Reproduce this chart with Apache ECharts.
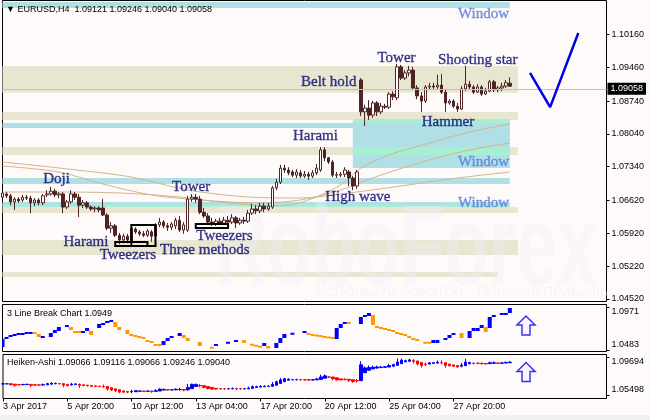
<!DOCTYPE html>
<html><head><meta charset="utf-8">
<script src="https://cdn.jsdelivr.net/npm/echarts@6/dist/echarts.min.js"></script>
<style>html,body{margin:0;padding:0;background:#fffafa;}#c{width:650px;height:420px;}</style>
</head><body><div id="c"></div>
<script>
const symbolName = 'EURUSD,H4';
const lastBar = [1.09121, 1.09246, 1.09040, 1.09058]; // O H L C
const tickLabels = ['3 Apr 2017','5 Apr 20:00','10 Apr 12:00','13 Apr 04:00','17 Apr 20:00','20 Apr 12:00','25 Apr 04:00','27 Apr 20:00'];
const priceTicks = [1.0452,1.0522,1.0592,1.0662,1.0734,1.0804,1.0874,1.0946,1.1016];
const lbTicks = [1.0483, 1.0971];
const haTicks = [1.05498, 1.09694];
const lbLast = 1.0949;
const haHeader = [1.09066, 1.09116, 1.09066, 1.09246, 1.09040];

// candles: [open, close, low, high]
const candles = [
[1.0669,1.0678,1.0665,1.0682],[1.0676,1.0672,1.0667,1.0680],[1.0672,1.0659,1.0652,1.0676],[1.0659,1.0665,1.0642,1.0669],
[1.0665,1.0661,1.0657,1.0669],[1.0663,1.0669,1.0659,1.0674],[1.0669,1.0667,1.0663,1.0674],[1.0667,1.0657,1.0635,1.0672],
[1.0657,1.0663,1.0650,1.0667],[1.0663,1.0657,1.0652,1.0667],[1.0657,1.0672,1.0652,1.0676],[1.0674,1.0676,1.0669,1.0684],
[1.0676,1.0682,1.0672,1.0691],[1.0682,1.0674,1.0669,1.0687],[1.0674,1.0676,1.0667,1.0680],[1.0676,1.0648,1.0635,1.0680],
[1.0648,1.0659,1.0644,1.0663],[1.0659,1.0676,1.0655,1.0684],[1.0676,1.0669,1.0663,1.0680],[1.0669,1.0652,1.0627,1.0676],
[1.0652,1.0657,1.0646,1.0663],[1.0657,1.0648,1.0644,1.0661],[1.0648,1.0644,1.0640,1.0652],[1.0644,1.0646,1.0637,1.0650],
[1.0646,1.0642,1.0637,1.0650],[1.0646,1.0631,1.0629,1.0665],[1.0631,1.0603,1.0599,1.0635],[1.0603,1.0608,1.0593,1.0616],
[1.0608,1.0588,1.0584,1.0612],[1.0588,1.0578,1.0569,1.0593],[1.0578,1.0586,1.0571,1.0591],[1.0586,1.0578,1.0571,1.0591],
[1.0574,1.0603,1.0569,1.0608],[1.0601,1.0595,1.0591,1.0605],[1.0595,1.0591,1.0586,1.0599],[1.0591,1.0588,1.0584,1.0597],
[1.0588,1.0597,1.0584,1.0601],[1.0595,1.0586,1.0574,1.0599],[1.0586,1.0610,1.0582,1.0614],[1.0610,1.0616,1.0605,1.0625],
[1.0616,1.0608,1.0603,1.0620],[1.0608,1.0605,1.0597,1.0614],[1.0605,1.0612,1.0599,1.0616],[1.0608,1.0620,1.0601,1.0625],
[1.0620,1.0599,1.0595,1.0629],[1.0599,1.0610,1.0591,1.0616],[1.0599,1.0665,1.0595,1.0672],[1.0665,1.0669,1.0659,1.0676],
[1.0669,1.0665,1.0657,1.0676],[1.0665,1.0637,1.0633,1.0672],[1.0637,1.0629,1.0625,1.0646],[1.0629,1.0616,1.0610,1.0635],
[1.0616,1.0612,1.0608,1.0625],[1.0612,1.0618,1.0608,1.0623],[1.0618,1.0614,1.0610,1.0625],[1.0614,1.0620,1.0610,1.0627],
[1.0620,1.0616,1.0612,1.0629],[1.0616,1.0625,1.0612,1.0633],[1.0625,1.0614,1.0603,1.0629],[1.0614,1.0620,1.0610,1.0625],
[1.0620,1.0618,1.0612,1.0627],[1.0618,1.0635,1.0614,1.0642],[1.0635,1.0644,1.0631,1.0655],[1.0644,1.0640,1.0633,1.0652],
[1.0640,1.0650,1.0635,1.0657],[1.0650,1.0644,1.0637,1.0657],[1.0644,1.0650,1.0640,1.0657],[1.0648,1.0689,1.0644,1.0693],
[1.0689,1.0701,1.0684,1.0708],[1.0701,1.0731,1.0697,1.0738],[1.0731,1.0727,1.0721,1.0738],[1.0727,1.0721,1.0716,1.0733],
[1.0723,1.0716,1.0712,1.0727],[1.0716,1.0723,1.0710,1.0729],[1.0721,1.0714,1.0710,1.0727],[1.0714,1.0718,1.0710,1.0725],
[1.0718,1.0714,1.0706,1.0723],[1.0714,1.0721,1.0710,1.0727],[1.0721,1.0731,1.0716,1.0740],[1.0727,1.0770,1.0723,1.0776],
[1.0770,1.0753,1.0746,1.0776],[1.0753,1.0744,1.0740,1.0755],[1.0744,1.0716,1.0712,1.0748],[1.0716,1.0717,1.0710,1.0723],
[1.0716,1.0718,1.0712,1.0723],[1.0718,1.0727,1.0712,1.0733],[1.0723,1.0710,1.0693,1.0727],[1.0710,1.0693,1.0684,1.0714],
[1.0693,1.0723,1.0687,1.0727],
[1.0919,1.0851,1.0842,1.0923],[1.0851,1.0859,1.0821,1.0866],[1.0859,1.0844,1.0834,1.0876],[1.0844,1.0870,1.0838,1.0874],
[1.0870,1.0851,1.0842,1.0874],[1.0851,1.0863,1.0846,1.0870],[1.0863,1.0861,1.0857,1.0868],[1.0861,1.0889,1.0857,1.0893],
[1.0889,1.0883,1.0876,1.0895],[1.0881,1.0947,1.0876,1.0953],[1.0947,1.0923,1.0919,1.0951],[1.0923,1.0934,1.0919,1.0940],
[1.0934,1.0940,1.0927,1.0949],[1.0940,1.0902,1.0898,1.0947],[1.0902,1.0885,1.0878,1.0908],[1.0885,1.0874,1.0851,1.0893],
[1.0874,1.0904,1.0870,1.0908],[1.0904,1.0906,1.0898,1.0913],[1.0906,1.0904,1.0900,1.0913],[1.0904,1.0908,1.0900,1.0930],
[1.0908,1.0893,1.0889,1.0932],[1.0893,1.0870,1.0851,1.0898],[1.0870,1.0874,1.0866,1.0878],[1.0874,1.0863,1.0859,1.0878],
[1.0863,1.0857,1.0851,1.0870],[1.0857,1.0900,1.0855,1.0906],[1.0900,1.0910,1.0895,1.0949],[1.0910,1.0904,1.0900,1.0917],
[1.0904,1.0893,1.0889,1.0908],[1.0893,1.0904,1.0891,1.0910],[1.0904,1.0889,1.0885,1.0908],[1.0889,1.0895,1.0887,1.0902],
[1.0895,1.0915,1.0893,1.0919],[1.0915,1.0898,1.0893,1.0919],[1.0898,1.0902,1.0893,1.0906],[1.0902,1.0906,1.0895,1.0913],
[1.0906,1.0913,1.0902,1.0919],
[lastBar[0], lastBar[3], lastBar[2], lastBar[1]]
];

// moving averages read at sample bars: [barIndex, value]
const maSlow = [[0,1.07441],[14,1.07313],[32,1.07121],[46,1.06844],[61,1.06695],[74,1.06673],[86,1.06780],[99,1.06929],[111,1.07078],[126,1.07228]];
const maMid  = [[0,1.07356],[14,1.07228],[24,1.06993],[37,1.06737],[49,1.06631],[64,1.06567],[74,1.06631],[84,1.06844],[94,1.07164],[106,1.07484],[116,1.07697],[126,1.07846]];
const maFast = [[0,1.06801],[14,1.06801],[29,1.06780],[44,1.06695],[56,1.06567],[69,1.06503],[76,1.06631],[84,1.06951],[89,1.07313],[96,1.07590],[106,1.07846],[116,1.08080],[126,1.08251]];

// forecast check mark
const checkMark = [[131,1.0934],[136,1.0861],[143,1.1019]];

// zones: [fromBar|null, toBar, top, bottom, kind]
const zones = [
 [null,126,1.10852,1.10724,'blue'],
 [null,128,1.09488,1.08919,'beige'],
 [null,128,1.08507,1.08337,'beige'],
 [87,126,1.08358,1.08273,'mint'],
 [null,126,1.08273,1.08166,'blue'],
 [null,128,1.07761,1.07591,'beige'],
 [87,126,1.08166,1.07313,'blue'],
 [87,126,1.07761,1.07591,'mint'],
 [null,126,1.07100,1.06972,'blue'],
 [null,126,1.06588,1.06503,'blue'],
 [null,126,1.06524,1.06482,'mint'],
 [null,128,1.06482,1.06354,'beige'],
 [null,128,1.05778,1.05458,'beige'],
 [null,123,1.05096,1.04989,'beige']
];
const zoneColors = {blue:'#b0e0e6', beige:'#e8e6d0', mint:'#a6efd2'};

// pattern boxes: [fromBar, toBar, top, bottom]
const patternBoxes = [[28,36,1.05735,1.05650],[32,38,1.06097,1.05650],[48,56,1.06119,1.06034]];

// pattern labels: [text, bar, price, style]
const patternLabels = [
 ['Window',113,1.10597,'w'],['Tower',93,1.09658],['Shooting star',108,1.09616],['Belt hold',74,1.09147],
 ['Hammer',104,1.08294],['Harami',72,1.07995],['Window',113,1.07441,'w'],['Doji',10,1.07078],
 ['Tower',42,1.06908],['High wave',80,1.06695],['Window',113,1.06567,'w'],['Tweezers',48,1.05863],
 ['Harami',15,1.05735],['Three methods',39,1.05565],['Tweezers',24,1.05458]
];

// 3 Line Break bricks: [bar, low, high, dir]
const lbBricks = [
[0,1.0518,1.0609,1],[1,1.0609,1.0632,1],[2,1.0632,1.0655,1],[3,1.0644,1.0667,1],[4,1.0655,1.0678,1],[5,1.0655,1.0678,1],
[6,1.0667,1.0690,1],[7,1.0667,1.0690,1],[8,1.0667,1.0690,-1],[9,1.0632,1.0667,-1],[10,1.0621,1.0644,1],[12,1.0632,1.0678,1],
[13,1.0678,1.0713,1],[14,1.0701,1.0747,1],[16,1.0747,1.0770,1],[17,1.0713,1.0747,-1],[18,1.0678,1.0701,-1],[19,1.0678,1.0701,-1],
[20,1.0678,1.0701,1],[21,1.0701,1.0736,1],[22,1.0655,1.0701,-1],[24,1.0736,1.0782,1],[25,1.0770,1.0793,1],[26,1.0793,1.0816,1],
[27,1.0805,1.0827,1],[28,1.0747,1.0805,-1],[29,1.0713,1.0747,-1],[31,1.0667,1.0713,-1],[32,1.0644,1.0667,-1],[33,1.0632,1.0655,-1],
[34,1.0621,1.0644,-1],[35,1.0609,1.0632,-1],[36,1.0575,1.0598,-1],[37,1.0563,1.0586,-1],[38,1.0529,1.0552,-1],[39,1.0529,1.0552,-1],
[40,1.0540,1.0586,1],[41,1.0586,1.0621,1],[42,1.0621,1.0644,1],[44,1.0644,1.0678,1],[45,1.0621,1.0655,-1],[46,1.0586,1.0621,-1],
[49,1.0529,1.0575,-1],[52,1.0500,1.0518,-1],[53,1.0529,1.0552,1],[56,1.0558,1.0575,1],[58,1.0575,1.0598,1],[60,1.0563,1.0598,-1],
[62,1.0535,1.0552,-1],[63,1.0523,1.0540,-1],[64,1.0512,1.0529,-1],[65,1.0529,1.0563,1],[66,1.0500,1.0529,-1],[68,1.0506,1.0563,1],
[69,1.0563,1.0621,1],[70,1.0621,1.0667,1],[72,1.0661,1.0678,1],[75,1.0678,1.0701,1],[76,1.0655,1.0678,-1],[77,1.0644,1.0667,-1],
[78,1.0638,1.0661,-1],[79,1.0632,1.0655,-1],[80,1.0621,1.0644,-1],[81,1.0615,1.0638,-1],[82,1.0609,1.0632,-1],[83,1.0609,1.0736,1],
[84,1.0736,1.0782,1],[85,1.0782,1.0805,1],[86,1.0782,1.0805,-1],[89,1.0782,1.0862,1],[90,1.0862,1.0885,1],[91,1.0873,1.0908,1],
[92,1.0770,1.0885,-1],[93,1.0736,1.0759,-1],[94,1.0724,1.0747,-1],[95,1.0713,1.0736,-1],[96,1.0701,1.0724,-1],[97,1.0690,1.0713,-1],
[98,1.0667,1.0690,-1],[99,1.0655,1.0678,-1],[100,1.0644,1.0667,-1],[101,1.0621,1.0644,-1],[102,1.0598,1.0621,-1],[103,1.0586,1.0609,-1],
[105,1.0558,1.0575,-1],[106,1.0558,1.0575,-1],[107,1.0563,1.0598,1],[108,1.0563,1.0598,1],[110,1.0598,1.0621,1],[111,1.0621,1.0655,1],
[112,1.0655,1.0678,1],[114,1.0621,1.0678,-1],[116,1.0621,1.0701,1],[117,1.0701,1.0736,1],[118,1.0701,1.0736,1],[119,1.0736,1.0770,1],
[120,1.0690,1.0747,-1],[121,1.0736,1.0862,1],[122,1.0862,1.0885,1],[124,1.0885,1.0908,1],[125,1.0885,1.0908,1],[126,1.0908,1.0965,1]
];
const lbArrow = [[130, 1.07644]];
const haArrow = [[130, 1.08038]];

// bar time categories (H4, weekdays), including empty right margin
const months = ['Jan','Feb','Mar','Apr','May','Jun','Jul','Aug','Sep','Oct','Nov','Dec'];
const barTimes = [];
(function(){ let t = Date.UTC(2017,3,3,4); while (barTimes.length < 151) { const d = new Date(t); const wd = d.getUTCDay();
  if (wd !== 0 && wd !== 6) barTimes.push(d.getUTCDate()+' '+months[d.getUTCMonth()]+' '+String(d.getUTCHours()).padStart(2,'0')+':00');
  t += 4*3600e3; } })();

// Heiken-Ashi from candles
const ha = [];
(function(){ let po, pc; candles.forEach((c,i)=>{ const [o,cl,l,h]=c; const hc=(o+cl+l+h)/4; const ho = i===0 ? (o+cl)/2 : (po+pc)/2;
  ha.push([ho, hc, Math.min(l,ho,hc), Math.max(h,ho,hc)]); po=ho; pc=hc; }); })();

const FONT = 'Liberation Sans';
const arrowPath = 'path://M9,0 L18,9 L13,9 L13,19 L5,19 L5,9 L0,9 Z';
const labelIdx = i => i % 16 === 0 && i / 16 < tickLabels.length;

const chart = echarts.init(document.getElementById('c'), null, {renderer:'canvas'});
const gridBase = {left:2.5, right:43.5, show:true, borderColor:'#000', borderWidth:1, backgroundColor:'transparent'};
const hiddenX = gi => ({type:'category', gridIndex:gi, data:barTimes, boundaryGap:false, show:false});

chart.setOption({
  animation:false,
  backgroundColor:'#fffafa',
  grid:[
    Object.assign({top:0.5, height:301}, gridBase),
    Object.assign({top:304.5, height:47}, gridBase),
    Object.assign({top:354.5, height:44}, gridBase)
  ],
  xAxis:[hiddenX(0), hiddenX(1), {
    type:'category', gridIndex:2, data:barTimes, boundaryGap:false,
    axisLine:{show:false},
    axisTick:{show:true, interval:labelIdx, length:3, lineStyle:{color:'#000'}},
    axisLabel:{interval:labelIdx, formatter:(v,i)=>tickLabels[i/16]||'', align:'left', fontSize:9, fontFamily:FONT, color:'#000', margin:4}
  }],
  yAxis:[
    {type:'value', gridIndex:0, position:'right', min:1.04467, max:1.10884,
     axisLine:{show:false}, splitLine:{show:false},
     axisTick:{show:true, customValues:priceTicks, length:3, lineStyle:{color:'#000'}},
     axisLabel:{customValues:priceTicks, formatter:v=>v.toFixed(5), color:'#000', fontSize:9, fontFamily:FONT, margin:5}},
    {type:'value', gridIndex:1, position:'right', min:1.04659, max:1.10054,
     axisLine:{show:false}, splitLine:{show:false},
     axisTick:{show:true, customValues:lbTicks, length:3, lineStyle:{color:'#000'}},
     axisLabel:{customValues:lbTicks, formatter:v=> (v>1.07?'{t|':'{b|')+v.toFixed(4)+'}', color:'#000', fontSize:9, fontFamily:FONT, margin:5,
       rich:{t:{padding:[9,0,0,0], fontSize:9, fontFamily:FONT}, b:{padding:[0,0,10,0], fontSize:9, fontFamily:FONT}}}},
    {type:'value', gridIndex:2, position:'right', min:1.05112, max:1.09970,
     axisLine:{show:false}, splitLine:{show:false},
     axisTick:{show:true, customValues:haTicks, length:3, lineStyle:{color:'#000'}},
     axisLabel:{customValues:haTicks, formatter:v=> (v>1.07?'{t|':'{b|')+v.toFixed(5)+'}', color:'#000', fontSize:9, fontFamily:FONT, margin:5,
       rich:{t:{padding:[9,0,0,0], fontSize:9, fontFamily:FONT}, b:{padding:[0,0,10,0], fontSize:9, fontFamily:FONT}}}}
  ],
  graphic:[
    {type:'text', x:215, y:196, scaleX:0.63, z:1, z2:50, silent:true,
     style:{text:'RoboForex', font:'bold 115px "Liberation Sans"', fill:'rgba(240,237,245,0.4)'}},
    {type:'text', x:316, y:286, z:1, z2:50, silent:true,
     style:{text:'ИСПОЛЬЗУЙ РОБОТОВ – ПОЛУЧАЙ ПРИБЫЛЬ', font:'13px "Liberation Sans"', fill:'rgba(238,235,242,0.5)'}},
    {type:'text', x:6, y:5, z:20, style:{text:'▼ '+symbolName+'  '+lastBar.map(v=>v.toFixed(5)).join(' '), font:'9px "Liberation Sans"', fill:'#000'}},
    {type:'text', x:7, y:309, z:20, style:{text:'3 Line Break Chart '+lbLast.toFixed(4), font:'9px "Liberation Sans"', fill:'#000'}},
    {type:'text', x:7, y:358, z:20, style:{text:'Heiken-Ashi '+haHeader.map(v=>v.toFixed(5)).join(' '), font:'9px "Liberation Sans"', fill:'#000'}},
    {type:'rect', shape:{x:0, y:415, width:650, height:5}, style:{fill:'#f0f0f0'}, z:0}
  ],
  series:[
    {type:'line', name:'zones', xAxisIndex:0, yAxisIndex:0, data:maSlow, symbol:'none', smooth:0.3,
     lineStyle:{color:'#d2b48c', width:1}, z:2, silent:true,
     markArea:{silent:true, label:{show:false},
       data: zones.map(([x0,x1,p0,p1,k]) => [Object.assign(x0==null?{}:{xAxis:x0}, {yAxis:p0, itemStyle:{color:zoneColors[k]}}), {xAxis:x1, yAxis:p1}])}},
    {type:'line', xAxisIndex:0, yAxisIndex:0, data:maMid, symbol:'none', smooth:0.3, lineStyle:{color:'#d2b48c', width:1}, z:2, silent:true},
    {type:'line', xAxisIndex:0, yAxisIndex:0, data:maFast, symbol:'none', smooth:0.3, lineStyle:{color:'#d2b48c', width:1}, z:2, silent:true},
    {type:'candlestick', xAxisIndex:0, yAxisIndex:0, data:candles, barWidth:3, z:3,
     itemStyle:{color:'#ffffff', color0:'#4d2525', borderColor:'#4d2525', borderColor0:'#4d2525', borderWidth:1},
     markLine:{silent:true, symbol:['none','none'], lineStyle:{color:'#c0c0c0', width:1, type:'solid'},
       label:{show:true, position:'end', formatter:()=>lastBar[3].toFixed(5), backgroundColor:'#000', color:'#fff', fontSize:9, fontFamily:FONT, padding:[2,3,1,3], distance:1},
       data:[{yAxis:lastBar[3]}]}},
    {type:'custom', xAxisIndex:0, yAxisIndex:0, data:patternBoxes, z:4, silent:true, encode:{x:[0,1], y:[2,3]},
     renderItem:(params, api)=>{ const p0 = api.coord([api.value(0), api.value(2)]); const p1 = api.coord([api.value(1), api.value(3)]);
       return {type:'rect', shape:{x:p0[0], y:p0[1], width:p1[0]-p0[0], height:p1[1]-p0[1]}, style:{fill:'none', stroke:'#000', lineWidth:2}}; }},
    {type:'line', xAxisIndex:0, yAxisIndex:0, data:checkMark, symbol:'none', lineStyle:{color:'#0000e6', width:2.5}, z:5, silent:true},
    {type:'scatter', xAxisIndex:0, yAxisIndex:0, symbolSize:1, itemStyle:{color:'transparent'}, z:6, silent:true, clip:false,
     data: patternLabels.map(([t,i,p,s]) => ({name:t, value:[i,p], label: s==='w' ? {color:'#5a78dc', textBorderColor:'#5a78dc'} : undefined})),
     label:{show:true, position:'right', distance:0, formatter:'{b}', fontFamily:'Liberation Serif', fontSize:15, color:'#0a0a70',
       textBorderColor:'#0a0a70', textBorderWidth:0.35}},
    {type:'custom', xAxisIndex:1, yAxisIndex:1, data:lbBricks, clip:true, z:3, silent:true, encode:{x:0, y:[1,2]},
     renderItem:(params, api)=>{ const x = api.value(0); const a = api.coord([x, api.value(1)]); const b = api.coord([x, api.value(2)]);
       const h = Math.max(2, a[1]-b[1]); const mid = (a[1]+b[1])/2;
       return {type:'rect', shape:{x:a[0]-2, y: (a[1]-b[1] < 2 ? mid-1 : b[1]), width:4, height:h}, style:{fill: api.value(3) > 0 ? '#0000ff' : '#ff9900'}}; }},
    {type:'scatter', xAxisIndex:1, yAxisIndex:1, data:lbArrow, symbol:arrowPath, symbolSize:[18,19], silent:true, z:5,
     itemStyle:{color:'#fdf4ff', borderColor:'#0000ee', borderWidth:1.5}},
    {type:'candlestick', xAxisIndex:2, yAxisIndex:2, data:ha, barWidth:3, z:3, silent:true,
     itemStyle:{color:'#0000ff', color0:'#ff0000', borderColor:'#0000ff', borderColor0:'#ff0000', borderWidth:1}},
    {type:'scatter', xAxisIndex:2, yAxisIndex:2, data:haArrow, symbol:arrowPath, symbolSize:[18,19], silent:true, z:5,
     itemStyle:{color:'#fdf4ff', borderColor:'#0000ee', borderWidth:1.5}}
  ]
});
</script>
</body></html>
